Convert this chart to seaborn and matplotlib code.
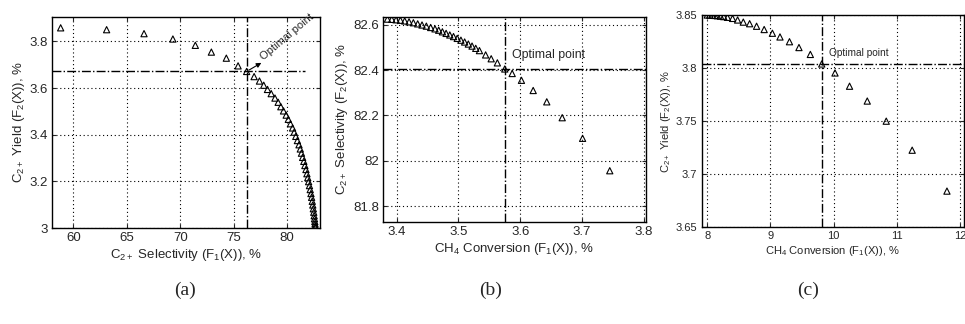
import matplotlib
matplotlib.use("Agg")
import matplotlib.pyplot as plt
import seaborn as sns
import pandas as pd
import numpy as np

# (a) C2+ selectivity vs C2+ yield
sel_a = [58.8, 63.1, 66.6, 69.3, 71.4, 72.9, 74.3, 75.4, 76.2, 76.9, 77.4, 77.8, 78.15, 78.5,
         78.85, 79.15, 79.4, 79.65, 79.9, 80.1, 80.3, 80.5, 80.65, 80.8, 80.95, 81.1, 81.22,
         81.33, 81.44, 81.55, 81.65, 81.75, 81.84, 81.92, 82.0, 82.08, 82.15, 82.22, 82.28,
         82.34, 82.39, 82.44, 82.48, 82.52, 82.55, 82.58, 82.6, 82.62, 82.63]
yield_a = [3.858, 3.85, 3.833, 3.81, 3.783, 3.754, 3.728, 3.695, 3.671, 3.649, 3.63, 3.612,
           3.594, 3.576, 3.557, 3.539, 3.52, 3.502, 3.484, 3.466, 3.447, 3.429, 3.411, 3.393,
           3.375, 3.357, 3.339, 3.321, 3.303, 3.286, 3.268, 3.251, 3.233, 3.216, 3.199, 3.182,
           3.165, 3.148, 3.132, 3.115, 3.099, 3.083, 3.068, 3.053, 3.04, 3.028, 3.018, 3.009, 3.002]
opt_a = (76.2, 3.671)

# (b) CH4 conversion vs C2+ selectivity
conv_b = [3.385, 3.392, 3.399, 3.406, 3.413, 3.42, 3.427, 3.434, 3.441, 3.448, 3.455, 3.462,
          3.468, 3.474, 3.48, 3.486, 3.492, 3.498, 3.504, 3.51, 3.516, 3.522, 3.528, 3.534,
          3.544, 3.553, 3.563, 3.575, 3.587, 3.602, 3.621, 3.643, 3.668, 3.701, 3.745]
sel_b = [82.625, 82.624, 82.622, 82.62, 82.617, 82.613, 82.609, 82.604, 82.599, 82.594,
         82.588, 82.582, 82.576, 82.569, 82.562, 82.555, 82.548, 82.54, 82.532, 82.524,
         82.515, 82.506, 82.496, 82.486, 82.467, 82.45, 82.432, 82.405, 82.385, 82.355,
         82.31, 82.26, 82.19, 82.099, 81.956]
opt_b = (3.575, 82.405)

# (c) CH4 conversion vs C2+ yield
conv_c = [8.0, 8.04, 8.08, 8.12, 8.16, 8.21, 8.26, 8.32, 8.4, 8.48, 8.57, 8.67, 8.78, 8.9,
          9.03, 9.15, 9.3, 9.45, 9.63, 9.81, 10.02, 10.25, 10.53, 10.83, 11.24, 11.79]
yield_c = [3.8502, 3.8501, 3.85, 3.8498, 3.8495, 3.8491, 3.8487, 3.848, 3.847, 3.8455,
           3.8435, 3.842, 3.8396, 3.8365, 3.833, 3.8295, 3.825, 3.8195, 3.813, 3.804,
           3.7955, 3.783, 3.769, 3.75, 3.7226, 3.684]
opt_c = (9.81, 3.804)

sns.set_style("ticks")
plt.rcParams['font.family'] = ['Liberation Sans', 'DejaVu Sans']
plt.rcParams['mathtext.fontset'] = 'custom'
plt.rcParams['mathtext.rm'] = 'Liberation Sans'
plt.rcParams['xtick.direction'] = 'in'
plt.rcParams['ytick.direction'] = 'in'

fig = plt.figure(figsize=(9.65, 3.24), dpi=100)
ax_a = fig.add_axes([0.054, 0.296, 0.278, 0.652])
ax_b = fig.add_axes([0.397, 0.315, 0.272, 0.633])
ax_c = fig.add_axes([0.727, 0.299, 0.272, 0.654])


def pinta_panel(ax, x, y, opt, xlim, ylim, xticks, yticks, xlabel, ylabel, fs, hline_end=None):
    df = pd.DataFrame({"x": x, "y": y})
    sns.scatterplot(data=df, x="x", y="y", ax=ax, marker="^", s=20,
                    facecolors="none", edgecolor="black", linewidth=0.8, zorder=3)
    ax.set_xlim(xlim)
    ax.set_ylim(ylim)
    ax.set_xticks(xticks)
    ax.set_yticks(yticks)
    ax.grid(True, linestyle=(0, (1, 2.5)), color="black", linewidth=0.8)
    x_end = xlim[1] if hline_end is None else hline_end
    ax.plot([xlim[0], x_end], [opt[1], opt[1]], color="black", linestyle="-.", linewidth=1.0)
    ax.plot([opt[0], opt[0]], list(ylim), color="black", linestyle="-.", linewidth=1.0)
    ax.set_xlabel(xlabel, fontsize=fs, labelpad=2)
    ax.set_ylabel(ylabel, fontsize=fs, labelpad=2)
    ax.tick_params(labelsize=fs, length=3, top=True, right=True, pad=3)
    for s in ax.spines.values():
        s.set_color("black")
        s.set_linewidth(1.0)


c2 = r"C$\mathregular{_{2+}}$"
pinta_panel(ax_a, sel_a, yield_a, opt_a, (58, 83.1), (3, 3.905), [60, 65, 70, 75, 80],
            [3, 3.2, 3.4, 3.6, 3.8], c2 + r" Selectivity (F$\mathregular{_1}$(X)), %",
            c2 + r" Yield (F$\mathregular{_2}$(X)), %", 9.5, hline_end=81.7)
ax_a.set_yticklabels(["3", "3.2", "3.4", "3.6", "3.8"])
ax_a.annotate("", xy=(77.8, 3.714), xytext=opt_a,
              arrowprops=dict(arrowstyle="-|>", color="black", lw=0.8, mutation_scale=7))
ax_a.text(77.9, 3.712, "Optimal point", rotation=40, fontsize=8, ha="left", va="bottom",
          rotation_mode="anchor")

pinta_panel(ax_b, conv_b, sel_b, opt_b, (3.378, 3.803), (81.73, 82.635),
            [3.4, 3.5, 3.6, 3.7, 3.8], [81.8, 82, 82.2, 82.4, 82.6],
            r"CH$\mathregular{_4}$ Conversion (F$\mathregular{_1}$(X)), %",
            c2 + r" Selectivity (F$\mathregular{_2}$(X)), %", 9.5)
ax_b.set_yticklabels(["81.8", "82", "82.2", "82.4", "82.6"])
ax_b.text(3.586, 82.468, "Optimal point", fontsize=8.8, ha="left", va="center")

pinta_panel(ax_c, conv_c, yield_c, opt_c, (7.91, 12.06), (3.65, 3.85),
            [8, 9, 10, 11, 12], [3.65, 3.7, 3.75, 3.8, 3.85],
            r"CH$\mathregular{_4}$ Conversion (F$\mathregular{_1}$(X)), %",
            c2 + r" Yield (F$\mathregular{_2}$(X)), %", 8)
ax_c.set_yticklabels(["3.65", "3.7", "3.75", "3.8", "3.85"])
ax_c.text(9.92, 3.814, "Optimal point", fontsize=7.3, ha="left", va="center")

for lbl, xp in [("(a)", 185), ("(b)", 491), ("(c)", 808)]:
    fig.text(xp / 965, 1 - 290 / 324, lbl, fontsize=14, family="Liberation Serif",
             ha="center", va="center")

fig.savefig("out.png", dpi=100)
